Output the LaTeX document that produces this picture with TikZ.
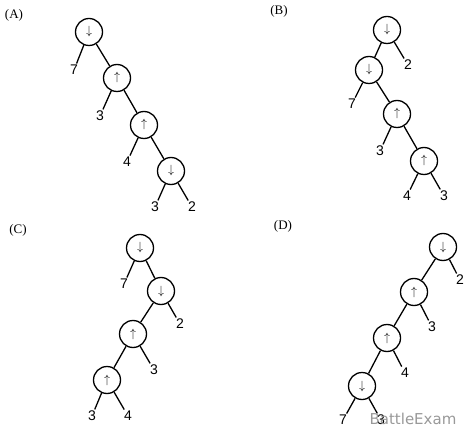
\documentclass[tikz,border=0pt]{standalone}
\usepackage{fontspec}
\setmainfont{Liberation Serif}
\newfontfamily\digfont{Liberation Sans}
\newfontfamily\wmfont{DejaVu Sans}
\usepackage{tikz}

\begin{document}
\begin{tikzpicture}[x = 1pt, y = -1pt, line width = 1.3pt,
		vtx/.style = {draw, circle, minimum size = 27pt, inner sep = 0pt, font = \fontsize{12}{12}\selectfont},
		leaf/.style = {inner sep = 1pt, font = \digfont\fontsize{14}{14}\selectfont},
		lbl/.style = {font = \fontsize{13}{13}\selectfont}]
				\useasboundingbox (0,0) rectangle (470,435);
				% (A)
				\node[lbl] at (14,15) {(A)};
				\node[vtx] (a1) at (89,32) {$\downarrow$};
				\node[vtx] (a2) at (117,78) {$\uparrow$};
				\node[vtx] (a3) at (144,125) {$\uparrow$};
				\node[vtx] (a4) at (171,171) {$\downarrow$};
				\node[leaf] (a7) at (74,70) {7};
				\node[leaf] (a3l) at (100,116) {3};
				\node[leaf] (a4l) at (127,162) {4};
				\node[leaf] (a3r) at (155,207) {3};
				\node[leaf] (a2r) at (192,207) {2};
				\draw (a1) -- (a2) -- (a3) -- (a4);
				\draw (a1) -- (a7);
				\draw (a2) -- (a3l);
				\draw (a3) -- (a4l);
				\draw (a4) -- (a3r);
				\draw (a4) -- (a2r);
				% (B)
				\node[lbl] at (279,11) {(B)};
				\node[vtx] (b1) at (387,30) {$\downarrow$};
				\node[vtx] (b2) at (369,70) {$\downarrow$};
				\node[vtx] (b3) at (397,114) {$\uparrow$};
				\node[vtx] (b4) at (424,161) {$\uparrow$};
				\node[leaf] (b2r) at (408,65) {2};
				\node[leaf] (b7) at (352,104) {7};
				\node[leaf] (b3l) at (380,151) {3};
				\node[leaf] (b4l) at (407,196) {4};
				\node[leaf] (b3r) at (444,196) {3};
				\draw (b1) -- (b2) -- (b3) -- (b4);
				\draw (b1) -- (b2r);
				\draw (b2) -- (b7);
				\draw (b3) -- (b3l);
				\draw (b4) -- (b4l);
				\draw (b4) -- (b3r);
				% (C)
				\node[lbl] at (18,230) {(C)};
				\node[vtx] (c1) at (140,248) {$\downarrow$};
				\node[vtx] (c2) at (161,291) {$\downarrow$};
				\node[vtx] (c3) at (133,334) {$\uparrow$};
				\node[vtx] (c4) at (107,380) {$\uparrow$};
				\node[leaf] (c7) at (124,284) {7};
				\node[leaf] (c2r) at (180,324) {2};
				\node[leaf] (c3r) at (154,370) {3};
				\node[leaf] (c3l) at (92,416) {3};
				\node[leaf] (c4r) at (128,416) {4};
				\draw (c1) -- (c2) -- (c3) -- (c4);
				\draw (c1) -- (c7);
				\draw (c2) -- (c2r);
				\draw (c3) -- (c3r);
				\draw (c4) -- (c3l);
				\draw (c4) -- (c4r);
				% (D)
				\node[lbl] at (283,226) {(D)};
				\node[vtx] (d1) at (443,247) {$\downarrow$};
				\node[vtx] (d2) at (414,292) {$\uparrow$};
				\node[vtx] (d3) at (387,338) {$\uparrow$};
				\node[vtx] (d4) at (362,386) {$\downarrow$};
				\node[leaf] (d2r) at (460,280) {2};
				\node[leaf] (d3r) at (432,327) {3};
				\node[leaf] (d4r) at (405,373) {4};
				\node[leaf] (d7) at (343,420) {7};
				\node[leaf] (d3l) at (381,420) {3};
				\draw (d1) -- (d2) -- (d3) -- (d4);
				\draw (d1) -- (d2r);
				\draw (d2) -- (d3r);
				\draw (d3) -- (d4r);
				\draw (d4) -- (d7);
				\draw (d4) -- (d3l);
				\node[text = black!40, font = \wmfont\fontsize{15}{15}\selectfont, anchor = base] (wm) at (413,424) {BattleExam};
			\end{tikzpicture}
\end{document}
